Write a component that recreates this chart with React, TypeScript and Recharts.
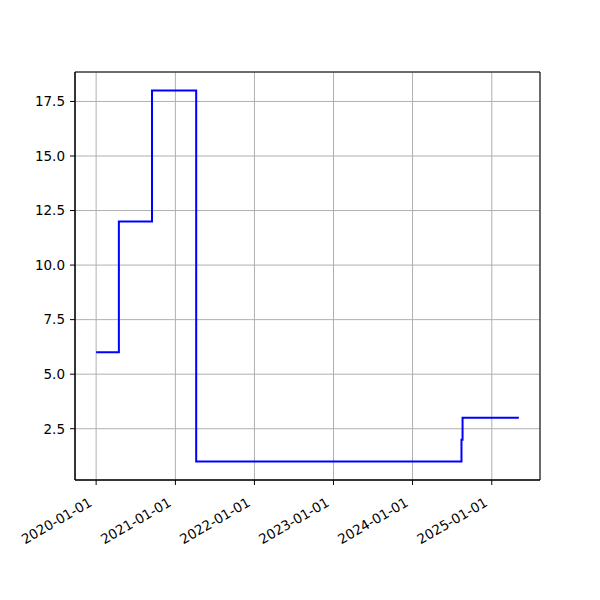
import React from "react";
import { LineChart, Line, XAxis, YAxis, CartesianGrid, ReferenceArea } from "recharts";

const dates = ["2020-01-01", "2020-04-15", "2020-09-15", "2021-04-07", "2024-08-14", "2024-08-19", "2025-05-06"];
const values = [6, 12, 18, 1, 2, 3, 3];
const yearTicks = ["2020-01-01", "2021-01-01", "2022-01-01", "2023-01-01", "2024-01-01", "2025-01-01"];
const yTicks = [2.5, 5.0, 7.5, 10.0, 12.5, 15.0, 17.5];

const toMs = (s: string) => Date.parse(s + "T00:00:00Z");
const data = dates.map((d, i) => ({ t: toMs(d), v: values[i] }));

const tMin = data[0].t;
const tMax = data[data.length - 1].t;
const xPad = (tMax - tMin) * 0.05;
const xDomain: [number, number] = [tMin - xPad, tMax + xPad];
const vMin = Math.min(...values);
const vMax = Math.max(...values);
const yPad = (vMax - vMin) * 0.05;
const yDomain: [number, number] = [vMin - yPad, vMax + yPad];

const fmtDate = (ms: number) => new Date(ms).toISOString().slice(0, 10);

const FONT = "DejaVu Sans, sans-serif";

function DateTick(props: any) {
  const { x, y, payload } = props;
  return (
    <g transform={`translate(${x - 8},${y + 10})`}>
      <text transform="rotate(-30)" textAnchor="end" dy="0.7em" fontSize={13.5} fontFamily={FONT} fill="#000">
        {fmtDate(payload.value)}
      </text>
    </g>
  );
}

export default function App() {
  return (
    <div style={{ position: "absolute", left: 0, top: 0, width: 600, height: 600, background: "#fff" }}>
      <LineChart width={600} height={600} data={data} margin={{ top: 72, right: 60, bottom: 0, left: 0 }}>
        <CartesianGrid stroke="#b0b0b0" strokeWidth={1} />
        <XAxis
          dataKey="t"
          type="number"
          scale="time"
          domain={xDomain}
          ticks={yearTicks.map(toMs)}
          interval={0}
          tick={<DateTick />}
          height={120}
          tickSize={5}
          axisLine={{ stroke: "#000" }}
          tickLine={{ stroke: "#000" }}
          allowDataOverflow
        />
        <YAxis
          type="number"
          domain={yDomain}
          ticks={yTicks}
          interval={0}
          tickFormatter={(v: number) => v.toFixed(1)}
          width={75}
          tickSize={5}
          tickMargin={5}
          tick={{ fontSize: 13.5, fontFamily: FONT, fill: "#000" }}
          axisLine={{ stroke: "#000" }}
          tickLine={{ stroke: "#000" }}
          allowDataOverflow
        />
        <ReferenceArea x1={xDomain[0]} x2={xDomain[1]} y1={yDomain[0]} y2={yDomain[1]} fill="none" stroke="#000" strokeWidth={1} ifOverflow="visible" />
        <Line dataKey="v" type="stepAfter" stroke="#0000ff" strokeWidth={2} dot={false} isAnimationActive={false} />
      </LineChart>
    </div>
  );
}
